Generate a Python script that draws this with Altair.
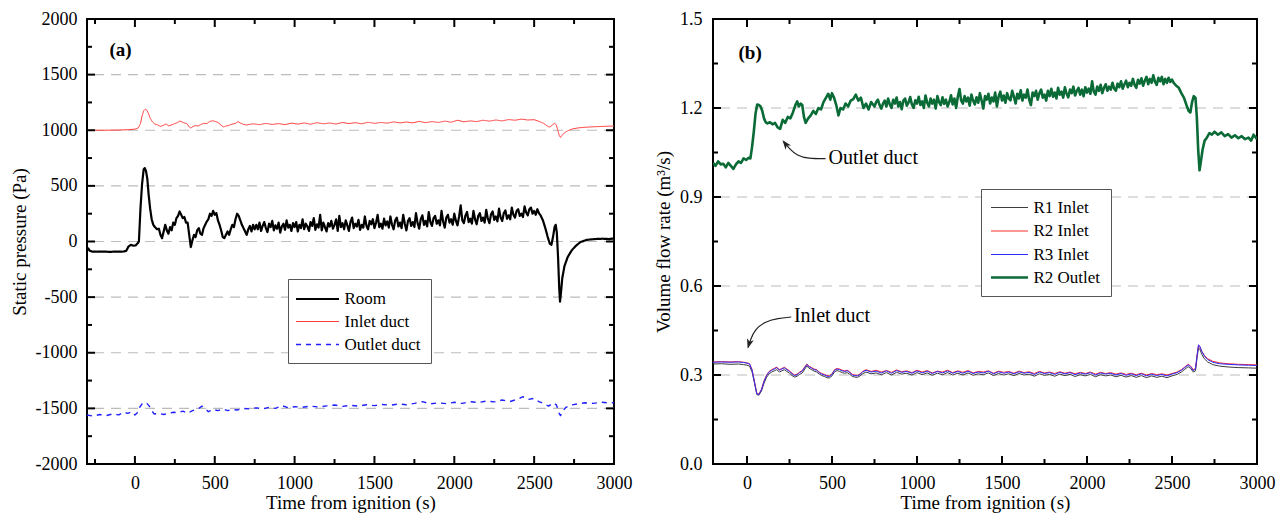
import altair as alt
import pandas as pd

FONT = "Liberation Serif"

# ---------------- panel (a): static pressure ----------------
ROOM = [(-300,-70),(-292,-62),(-285,-80),(-270,-90),(-240,-92),(-200,-90),(-160,-93),(-120,-91),
        (-80,-92),(-55,-85),(-40,-45),(-25,-30),(-10,-38),(5,-35),(15,-20),(25,0),(35,300),(45,520),
        (55,650),(62,660),(70,630),(78,560),(86,420),(95,300),(105,200),(115,150),(125,130),(138,110),
        (150,115),(160,60),(170,30),(180,90),(190,150),(200,100),(210,70),(220,130),(230,100),(240,170),
        (250,150),(260,210),(270,230),(280,270),(290,240),(300,210),(310,220),(320,170),(330,170),
        (340,60),(350,-50),(360,10),(370,60),(380,40),(390,100),(400,120),(410,70),(420,60),(430,120),
        (440,150),(450,180),(460,200),(470,250),(480,230),(490,275),(500,240),(510,255),(520,190),
        (530,150),(540,100),(550,40),(560,30),(570,60),(580,90),(590,60),(600,110),(610,150),(620,130),
        (630,200),(640,250),(650,230),(660,190),(670,150),(680,120),(690,90),(700,60),(710,110),
        (720,140),(730,90),(740,150),(750,110),
        (760,150),(770,110),(780,170),(790,95),(800,140),(810,175),(820,120),(830,85),(840,160),(850,130),
        (860,185),(870,100),(880,145),(890,115),(900,170),(910,80),(920,135),(930,160),(940,105),(950,190),
        (960,125),(970,150),(980,95),(990,165),(1000,130),(1010,175),(1020,90),(1030,150),(1040,120),
        (1050,200),(1060,110),(1070,160),(1080,135),(1090,95),(1100,175),(1110,140),(1120,210),(1130,105),
        (1140,155),(1150,125),(1160,240),(1170,100),(1180,170),(1190,130),(1200,90),(1210,165),(1220,135),
        (1230,185),(1240,115),(1250,150),(1260,200),(1270,95),(1280,230),(1290,130),(1300,165),(1310,110),
        (1320,190),(1330,145),(1340,95),(1350,175),(1360,215),(1370,120),(1380,160),(1390,135),(1400,195),
        (1410,105),(1420,150),(1430,125),(1440,225),(1450,140),(1460,110),(1470,185),(1480,155),(1490,200),
        (1500,120),(1510,170),(1520,240),(1530,130),(1540,160),(1550,115),(1560,205),(1570,145),(1580,180),
        (1590,125),(1600,225),(1610,150),(1620,110),(1630,190),(1640,215),(1650,135),(1660,170),(1670,120),
        (1680,240),(1690,160),(1700,100),(1710,185),(1720,210),(1730,140),(1740,175),(1750,130),(1760,255),
        (1770,165),(1780,115),(1790,200),(1800,235),(1810,150),(1820,185),(1830,135),(1840,265),(1850,175),
        (1860,140),(1870,210),(1880,230),(1890,160),(1900,190),(1910,145),(1920,275),(1930,180),(1940,125),
        (1950,215),(1960,240),(1970,170),(1980,200),(1990,150),(2000,250),(2010,185),(2020,145),(2030,225),
        (2040,325),(2050,190),(2060,165),(2070,235),(2080,265),(2090,175),(2100,205),(2110,160),(2120,275),
        (2130,200),(2140,155),(2150,230),(2160,255),(2170,185),(2180,215),(2190,170),(2200,285),(2210,205),
        (2220,165),(2230,245),(2240,270),(2250,195),(2260,225),(2270,180),(2280,295),(2290,215),(2300,185),
        (2310,255),(2320,280),(2330,205),(2340,235),(2350,200),(2360,305),(2370,240),(2380,215),(2390,275),
        (2400,290),(2410,230),(2420,250),(2430,220),(2440,315),(2450,260),(2460,235),(2470,290),(2480,305),
        (2490,250),(2500,275),(2510,240),(2520,290),(2530,255),(2540,235),
        (2555,190),(2570,120),(2585,40),(2598,-20),(2608,-30),(2618,40),(2628,130),(2635,150),(2642,80),
        (2650,-150),(2657,-420),(2662,-540),(2668,-460),(2676,-330),(2690,-220),(2710,-140),(2735,-80),
        (2760,-40),(2790,-5),(2830,15),(2880,22),(2930,25),(2970,22),(3000,28)]

INLET_DUCT = [(-300,1000),(-200,1000),(-100,1002),(-40,1005),(0,1010),(20,1020),(35,1060),(45,1130),
        (55,1175),(65,1190),(75,1180),(85,1150),(95,1110),(110,1075),(125,1055),(140,1050),(160,1035),
        (180,1045),(195,1058),(210,1040),(230,1048),(250,1060),(265,1068),(280,1082),(295,1075),(310,1065),
        (325,1060),(340,1030),(350,1020),(365,1035),(380,1042),(395,1038),(410,1050),(430,1062),(450,1060),
        (470,1080),(490,1085),(505,1078),(520,1070),(540,1045),(555,1030),(570,1038),(590,1045),(610,1055),
        (630,1062),(645,1078),(660,1065),(680,1052),(700,1048),
        (740,1058),(780,1050),(820,1062),(860,1052),(900,1060),(940,1050),(980,1064),(1020,1055),(1060,1066),
        (1100,1054),(1140,1068),(1180,1058),(1220,1065),(1260,1056),(1300,1070),(1340,1060),(1380,1068),
        (1420,1058),(1460,1072),(1500,1062),(1540,1070),(1580,1064),(1620,1075),(1660,1066),(1700,1074),
        (1740,1066),(1780,1080),(1820,1068),(1860,1078),(1900,1070),(1940,1082),(1980,1072),(2020,1090),
        (2060,1076),(2100,1084),(2140,1078),(2180,1090),(2220,1082),(2260,1092),(2300,1084),(2340,1096),
        (2380,1090),(2420,1100),(2460,1092),(2500,1095),
        (2530,1080),(2560,1062),(2585,1035),(2600,1028),(2615,1050),(2628,1062),(2638,1050),(2648,1000),
        (2658,950),(2665,935),(2675,955),(2690,978),(2710,995),(2740,1012),(2780,1022),(2830,1028),
        (2900,1033),(2960,1036),(3000,1038)]

OUTLET_DUCT = [(-300,-1560),(-260,-1570),(-220,-1555),(-180,-1565),(-140,-1550),(-100,-1558),(-70,-1535),
        (-45,-1545),(-20,-1530),(0,-1560),(15,-1540),(30,-1490),(45,-1460),(60,-1445),(75,-1455),(90,-1480),
        (105,-1520),(120,-1550),(150,-1545),(180,-1555),(210,-1545),(240,-1535),(270,-1540),(300,-1525),
        (330,-1545),(360,-1520),(390,-1510),(420,-1480),(440,-1500),(460,-1530),(490,-1510),(520,-1520),
        (550,-1505),(580,-1520),(610,-1510),(640,-1515),(680,-1500),(720,-1505),(760,-1495),(800,-1505),
        (840,-1490),(880,-1500),(920,-1475),(960,-1495),(1000,-1485),(1050,-1490),(1100,-1480),(1150,-1488),
        (1200,-1478),(1250,-1470),(1300,-1482),(1350,-1472),(1400,-1480),(1450,-1468),(1500,-1475),
        (1550,-1465),(1600,-1472),(1650,-1460),(1700,-1468),(1750,-1455),(1800,-1440),(1850,-1460),
        (1900,-1450),(1950,-1458),(2000,-1445),(2050,-1455),(2100,-1440),(2150,-1448),(2200,-1435),
        (2250,-1442),(2300,-1425),(2350,-1438),(2400,-1415),(2430,-1395),(2460,-1420),(2500,-1410),
        (2530,-1440),(2560,-1455),(2590,-1480),(2620,-1450),(2640,-1470),(2655,-1540),(2665,-1565),
        (2680,-1520),(2700,-1490),(2730,-1470),(2770,-1460),(2820,-1450),(2870,-1455),(2920,-1445),
        (2970,-1452),(3000,-1448)]

A_SERIES = ["Room", "Inlet duct", "Outlet duct"]
A_COLORS = ["#000000", "#ff3a3a", "#1f1fff"]
A_WIDTHS = [2.2, 1.0, 1.4]
A_DASHES = [[1, 0], [1, 0], [5, 5]]
A_X_MAJOR = [0, 500, 1000, 1500, 2000, 2500, 3000]
A_X_MINOR = [-250, 250, 750, 1250, 1750, 2250, 2750]
A_Y_MAJOR = [-2000, -1500, -1000, -500, 0, 500, 1000, 1500, 2000]
A_Y_MINOR = [-1750, -1250, -750, -250, 250, 750, 1250, 1750]
A_GRID = [-1500, -1000, -500, 0, 500, 1000, 1500]
A_TAG = [(-159, 1721, "(a)")]

# ---------------- panel (b): volume flow rate ----------------
R2_OUTLET = [(-200,1.015),(-185,1.005),(-170,1.02),(-155,1.01),(-140,1.012),(-125,1.0),(-110,1.015),
        (-95,1.005),(-80,0.995),(-65,1.01),(-50,1.02),(-35,1.015),(-20,1.03),(-5,1.025),(10,1.032),(20,1.03),
        (30,1.07),(40,1.12),(50,1.18),(60,1.212),(70,1.21),(80,1.205),(90,1.19),(100,1.165),(110,1.152),
        (120,1.148),(135,1.152),(150,1.145),(165,1.15),(180,1.135),(195,1.13),(210,1.16),(225,1.15),
        (240,1.17),(255,1.165),(270,1.185),(285,1.21),(295,1.222),(305,1.205),(315,1.215),(325,1.21),
        (335,1.17),(345,1.15),(360,1.165),(375,1.175),(390,1.19),(405,1.18),(420,1.2),(435,1.195),
        (450,1.22),(465,1.235),(478,1.248),(490,1.228),(500,1.25),(512,1.235),(525,1.21),(538,1.175),
        (550,1.2),(565,1.195),(580,1.215),(595,1.205),(610,1.225),(625,1.23),(640,1.245),(655,1.225),
        (670,1.235),(685,1.2),(700,1.215),(715,1.195),(730,1.22),
        (750,1.205),(760,1.22),(770,1.228),(780,1.21),(790,1.198),(800,1.215),(810,1.225),(820,1.205),
        (830,1.232),(840,1.212),(850,1.2),(860,1.228),(870,1.215),(880,1.235),(890,1.205),(900,1.22),
        (910,1.196),(920,1.225),(930,1.232),(940,1.208),(950,1.218),(960,1.237),(970,1.212),(980,1.2),
        (990,1.226),(1000,1.215),(1010,1.238),(1020,1.21),(1030,1.222),(1040,1.2),(1050,1.242),(1060,1.218),
        (1070,1.205),(1080,1.232),(1090,1.215),(1100,1.228),(1110,1.198),(1120,1.24),(1130,1.22),
        (1140,1.21),(1150,1.236),(1160,1.214),(1170,1.228),(1180,1.205),(1190,1.22),(1200,1.243),
        (1210,1.212),(1220,1.232),(1230,1.2),(1240,1.238),(1250,1.264),(1260,1.225),(1270,1.215),
        (1280,1.24),(1290,1.222),(1300,1.235),(1310,1.208),(1320,1.245),(1330,1.225),(1340,1.212),
        (1350,1.236),(1360,1.218),(1370,1.25),(1380,1.225),(1390,1.198),(1400,1.24),(1410,1.228),
        (1420,1.248),(1430,1.215),(1440,1.235),(1450,1.222),(1460,1.252),(1470,1.205),(1480,1.238),
        (1490,1.255),(1500,1.225),(1510,1.242),(1520,1.218),(1530,1.25),(1540,1.232),(1550,1.226),
        (1560,1.258),(1570,1.238),(1580,1.215),(1590,1.248),(1600,1.232),(1610,1.26),(1620,1.225),
        (1630,1.245),(1640,1.235),(1650,1.262),(1660,1.228),(1670,1.21),(1680,1.252),(1690,1.24),
        (1700,1.258),(1710,1.228),(1720,1.25),(1730,1.262),(1740,1.235),(1750,1.245),(1760,1.225),
        (1770,1.258),(1780,1.24),(1790,1.265),(1800,1.238),(1810,1.252),(1820,1.232),(1830,1.268),
        (1840,1.245),(1850,1.255),(1860,1.235),(1870,1.27),(1880,1.248),(1890,1.236),(1900,1.262),
        (1910,1.25),(1920,1.272),(1930,1.242),(1940,1.258),(1950,1.268),(1960,1.245),(1970,1.262),
        (1980,1.24),(1990,1.27),(2000,1.252),(2010,1.265),(2020,1.248),(2030,1.29),(2040,1.255),
        (2050,1.245),(2060,1.272),(2070,1.258),(2080,1.278),(2090,1.25),(2100,1.268),(2110,1.28),
        (2120,1.258),(2130,1.272),(2140,1.262),(2150,1.285),(2160,1.265),(2170,1.258),(2180,1.282),
        (2190,1.27),(2200,1.29),(2210,1.265),(2220,1.28),(2230,1.292),(2240,1.27),(2250,1.285),
        (2260,1.275),(2270,1.298),(2280,1.278),(2290,1.268),(2300,1.295),(2310,1.282),(2320,1.3),
        (2330,1.275),(2340,1.292),(2350,1.305),(2360,1.28),(2370,1.298),(2380,1.285),(2390,1.31),
        (2400,1.288),(2410,1.278),(2420,1.302),(2430,1.29),(2440,1.305),(2450,1.28),(2460,1.298),
        (2470,1.285),(2480,1.302),(2490,1.288),(2500,1.296),(2510,1.285),
        (2525,1.275),(2540,1.268),(2555,1.25),(2570,1.235),(2585,1.21),(2598,1.19),(2608,1.185),
        (2618,1.22),(2628,1.24),(2638,1.235),(2646,1.17),(2654,1.06),(2662,0.99),(2670,1.02),(2680,1.06),
        (2692,1.09),(2705,1.1),(2720,1.115),(2735,1.11),(2750,1.12),(2770,1.11),(2790,1.118),(2810,1.105),
        (2830,1.112),(2850,1.1),(2870,1.108),(2890,1.098),(2910,1.105),(2930,1.095),(2950,1.1),
        (2965,1.09),(2980,1.11),(3000,1.095)]

T_INLET = [-200,-150,-100,-50,-20,0,15,30,45,58,
           70,85,100,115,130,145,160,175,190,205,
           220,235,250,265,280,295,310,325,340,352,
           365,380,395,410,425,440,455,470,485,500,
           515,530,545,560,575,590,605,620,635,650,
           665,680,700,730,760,790,820,850,880,910,
           940,970,1000,1030,1060,1090,1120,1150,1180,1210,
           1240,1270,1300,1330,1360,1390,1420,1450,1480,1510,
           1540,1570,1600,1630,1660,1690,1720,1750,1780,1810,
           1840,1870,1900,1930,1960,1990,2020,2050,2080,2110,
           2140,2170,2200,2230,2260,2290,2320,2350,2380,2410,
           2440,2470,2500,2530,2555,2575,2595,2610,2625,2638,
           2648,2656,2664,2675,2690,2710,2740,2780,2830,2890,
           2950,3000]

R1_INLET = [0.337,0.338,0.336,0.337,0.335,0.333,0.33,0.31,0.27,0.234,
            0.232,0.246,0.272,0.292,0.304,0.31,0.314,0.318,0.31,0.314,
            0.318,0.312,0.306,0.298,0.293,0.296,0.302,0.307,0.32,0.33,
            0.323,0.318,0.313,0.31,0.303,0.298,0.295,0.291,0.29,0.297,
            0.311,0.315,0.312,0.308,0.306,0.308,0.302,0.295,0.293,0.292,
            0.297,0.304,0.31,0.304,0.307,0.301,0.308,0.3,0.309,0.303,
            0.306,0.3,0.308,0.301,0.307,0.299,0.306,0.301,0.308,0.3,
            0.306,0.3,0.307,0.299,0.304,0.301,0.307,0.298,0.305,0.3,
            0.304,0.298,0.305,0.3,0.303,0.296,0.304,0.299,0.302,0.296,
            0.303,0.298,0.302,0.295,0.301,0.297,0.302,0.294,0.301,0.297,
            0.3,0.294,0.299,0.293,0.298,0.292,0.298,0.291,0.297,0.292,
            0.296,0.291,0.297,0.302,0.31,0.319,0.328,0.322,0.31,0.314,
            0.36,0.392,0.386,0.37,0.355,0.344,0.335,0.33,0.327,0.325,
            0.324,0.323]

R2_INLET = [0.344,0.345,0.344,0.345,0.343,0.341,0.338,0.318,0.275,0.238,
            0.236,0.252,0.28,0.3,0.312,0.318,0.322,0.327,0.318,0.322,
            0.326,0.32,0.314,0.306,0.3,0.303,0.31,0.315,0.328,0.337,
            0.33,0.325,0.32,0.318,0.31,0.305,0.302,0.298,0.297,0.304,
            0.318,0.322,0.32,0.316,0.314,0.316,0.31,0.302,0.3,0.299,
            0.304,0.312,0.318,0.312,0.316,0.31,0.315,0.309,0.317,0.311,
            0.314,0.308,0.316,0.31,0.315,0.307,0.313,0.31,0.316,0.308,
            0.314,0.309,0.315,0.307,0.312,0.31,0.314,0.306,0.313,0.309,
            0.312,0.306,0.313,0.308,0.311,0.305,0.312,0.307,0.31,0.305,
            0.311,0.306,0.31,0.304,0.309,0.305,0.31,0.303,0.309,0.305,
            0.308,0.303,0.307,0.302,0.306,0.301,0.306,0.3,0.305,0.301,
            0.304,0.3,0.305,0.31,0.318,0.327,0.336,0.33,0.318,0.322,
            0.37,0.4,0.395,0.38,0.366,0.355,0.346,0.341,0.338,0.336,
            0.335,0.334]

R3_INLET = [0.343,0.344,0.343,0.344,0.342,0.340,0.337,0.316,0.273,0.236,
            0.234,0.25,0.278,0.298,0.31,0.316,0.32,0.325,0.316,0.32,
            0.324,0.318,0.312,0.304,0.298,0.301,0.308,0.313,0.326,0.335,
            0.328,0.323,0.318,0.316,0.308,0.303,0.3,0.296,0.295,0.302,
            0.316,0.32,0.318,0.314,0.312,0.314,0.308,0.3,0.298,0.297,
            0.302,0.31,0.316,0.31,0.313,0.307,0.314,0.306,0.315,0.309,
            0.312,0.306,0.314,0.307,0.313,0.305,0.312,0.307,0.314,0.306,
            0.312,0.306,0.313,0.305,0.31,0.307,0.313,0.304,0.311,0.306,
            0.31,0.304,0.311,0.306,0.309,0.302,0.31,0.305,0.308,0.302,
            0.309,0.304,0.308,0.301,0.307,0.303,0.308,0.3,0.307,0.303,
            0.306,0.3,0.305,0.299,0.304,0.298,0.304,0.297,0.303,0.298,
            0.302,0.297,0.303,0.308,0.316,0.325,0.334,0.328,0.315,0.32,
            0.368,0.402,0.396,0.38,0.364,0.352,0.343,0.338,0.336,0.334,
            0.333,0.332]

B_SERIES = ["R1 Inlet", "R2 Inlet", "R3 Inlet", "R2 Outlet"]
B_COLORS = ["#3c3c3c", "#ff2a2a", "#2b2bff", "#0a6b36"]
B_WIDTHS = [1.0, 1.0, 1.0, 2.6]
B_X_MAJOR = [0, 500, 1000, 1500, 2000, 2500, 3000]
B_X_MINOR = [250, 750, 1250, 1750, 2250, 2750]
B_Y_MAJOR = [0.0, 0.3, 0.6, 0.9, 1.2, 1.5]
B_Y_MINOR = [0.15, 0.45, 0.75, 1.05, 1.35]
B_GRID = [0.3, 0.6, 0.9, 1.2]
B_TAG = [(-50, 1.385, "(b)")]
B_NOTES = [(480, 1.031, "Outlet duct"), (276, 0.499, "Inlet duct")]
ARROW_OUT = [(215, 1.0876), (249, 1.063), (294, 1.0393), (361, 1.0292), (462, 1.0292)]
ARROW_IN = [(260, 0.4955), (182, 0.491), (103, 0.4795), (47, 0.4534), (20, 0.4193), (7, 0.3932)]
ARROW_HEADS = [(226, 1.079, 322), (12, 0.405, 197)]

W_A, W_B, H = 527, 544, 445


def series_frame(named):
    rows = []
    for name, pts in named:
        for t, v in pts:
            rows.append({"t": t, "val": v, "series": name})
    return pd.DataFrame(rows)


def tick_layers(X, Y, xmaj, xmin, ymaj, ymin, W):
    layers = []
    for vals, L in ((ymaj, 8), (ymin, 5)):
        base = alt.Chart(pd.DataFrame({"val": vals})).mark_rule(color="black", strokeWidth=2)
        layers.append(base.encode(y=Y, x=alt.value(0), x2=alt.value(L)))
        layers.append(base.encode(y=Y, x=alt.value(W - L), x2=alt.value(W)))
    for vals, L in ((xmaj, 8), (xmin, 5)):
        base = alt.Chart(pd.DataFrame({"t": vals})).mark_rule(color="black", strokeWidth=2)
        layers.append(base.encode(x=X, y=alt.value(H - L), y2=alt.value(H)))
        layers.append(base.encode(x=X, y=alt.value(0), y2=alt.value(L)))
    return layers


def grid_layer(vals, Y):
    return alt.Chart(pd.DataFrame({"val": vals})).mark_rule(
        color="#bcbcbc", strokeWidth=1.2, strokeDash=[10, 7]
    ).encode(y=Y)


def text_layer(items, X, Y, size, bold=False):
    df = pd.DataFrame(items, columns=["t", "val", "txt"])
    return alt.Chart(df).mark_text(
        font=FONT, fontSize=size, fontWeight="bold" if bold else "normal",
        align="left", baseline="middle", color="black"
    ).encode(x=X, y=Y, text="txt:N")


common_axis = dict(grid=False, ticks=False, domain=False, labelFlush=False, labelOverlap=False)

# ---------------- panel (a) ----------------
XA = alt.X("t:Q", scale=alt.Scale(domain=[-300, 3000], nice=False, zero=False),
           axis=alt.Axis(title="Time from ignition (s)", values=A_X_MAJOR, format="d",
                         labelPadding=10, titlePadding=1, **common_axis))
YA = alt.Y("val:Q", scale=alt.Scale(domain=[-2000, 2000], nice=False, zero=False),
           axis=alt.Axis(title="Static pressure (Pa)", values=A_Y_MAJOR, labelExpr="'' + datum.value",
                         labelPadding=10, titlePadding=6, **common_axis))
dfA = series_frame([("Room", ROOM), ("Inlet duct", INLET_DUCT), ("Outlet duct", OUTLET_DUCT)])
legA = dict(orient="none", legendX=201, legendY=260, title=None, fillColor="white",
            strokeColor="#555555", padding=10, symbolType="M-2.5,0H2.5", symbolSize=296,
            symbolOffset=9.5, labelOffset=17, rowPadding=5, labelFont=FONT, labelFontSize=17,
            labelColor="black")
linesA = alt.Chart(dfA).mark_line(clip=True, strokeJoin="round").encode(
    x=XA, y=YA,
    color=alt.Color("series:N", sort=A_SERIES,
                    scale=alt.Scale(type="ordinal", domain=A_SERIES, range=A_COLORS),
                    legend=alt.Legend(**legA)),
    strokeWidth=alt.StrokeWidth("series:N", sort=A_SERIES,
                                scale=alt.Scale(type="ordinal", domain=A_SERIES, range=A_WIDTHS),
                                legend=alt.Legend(**legA)),
    strokeDash=alt.StrokeDash("series:N", sort=A_SERIES,
                              scale=alt.Scale(type="ordinal", domain=A_SERIES, range=A_DASHES),
                              legend=alt.Legend(**legA)),
)
panelA = alt.layer(
    grid_layer(A_GRID, YA), linesA,
    *tick_layers(XA, YA, A_X_MAJOR, A_X_MINOR, A_Y_MAJOR, A_Y_MINOR, W_A),
    text_layer(A_TAG, XA, YA, 19, bold=True),
).properties(width=W_A, height=H)

# ---------------- panel (b) ----------------
XB = alt.X("t:Q", scale=alt.Scale(domain=[-200, 3000], nice=False, zero=False),
           axis=alt.Axis(title="Time from ignition (s)", values=B_X_MAJOR, format="d",
                         labelPadding=10, titlePadding=1, **common_axis))
YB = alt.Y("val:Q", scale=alt.Scale(domain=[0, 1.5], nice=False, zero=False),
           axis=alt.Axis(title="Volume flow rate (m³/s)", values=B_Y_MAJOR, format=".1f",
                         labelPadding=11, titlePadding=6, **common_axis))
dfB = series_frame([
    ("R1 Inlet", list(zip(T_INLET, R1_INLET))),
    ("R2 Inlet", list(zip(T_INLET, R2_INLET))),
    ("R3 Inlet", list(zip(T_INLET, R3_INLET))),
    ("R2 Outlet", R2_OUTLET),
])
legB = dict(orient="none", legendX=268, legendY=170, title=None, fillColor="white",
            strokeColor="#555555", padding=10, symbolType="M-2.5,0H2.5", symbolSize=219,
            symbolOffset=9.5, labelOffset=15, rowPadding=5.5, labelFont=FONT, labelFontSize=17,
            labelColor="black")
linesB = alt.Chart(dfB).mark_line(clip=True, strokeJoin="round").encode(
    x=XB, y=YB,
    color=alt.Color("series:N", sort=B_SERIES,
                    scale=alt.Scale(type="ordinal", domain=B_SERIES, range=B_COLORS),
                    legend=alt.Legend(**legB)),
    strokeWidth=alt.StrokeWidth("series:N", sort=B_SERIES,
                                scale=alt.Scale(type="ordinal", domain=B_SERIES, range=B_WIDTHS),
                                legend=alt.Legend(**legB)),
)

arrow_rows = [{"t": t, "val": v, "i": i, "name": "out"} for i, (t, v) in enumerate(ARROW_OUT)] + \
             [{"t": t, "val": v, "i": i, "name": "in"} for i, (t, v) in enumerate(ARROW_IN)]
arrows = alt.Chart(pd.DataFrame(arrow_rows)).mark_line(
    interpolate="basis", color="#222222", strokeWidth=1.2
).encode(x=XB, y=YB, order="i:Q", detail="name:N")
heads = alt.Chart(pd.DataFrame(ARROW_HEADS, columns=["t", "val", "a"])).mark_point(
    shape="M0,-1L0.75,1L0,0.45L-0.75,1Z", filled=True, color="#222222", size=90, opacity=1
).encode(x=XB, y=YB, angle=alt.Angle("a:Q", scale=None))

panelB = alt.layer(
    grid_layer(B_GRID, YB), linesB,
    *tick_layers(XB, YB, B_X_MAJOR, B_X_MINOR, B_Y_MAJOR, B_Y_MINOR, W_B),
    arrows, heads,
    text_layer(B_TAG, XB, YB, 19, bold=True),
    text_layer(B_NOTES, XB, YB, 20),
).properties(width=W_B, height=H)

chart = alt.hconcat(panelA, panelB, spacing=20).resolve_scale(
    color="independent", strokeWidth="independent", strokeDash="independent"
).properties(
    padding={"left": 9, "top": 9, "right": 5, "bottom": 2}
).configure_view(
    stroke="black", strokeWidth=2
).configure_axis(
    labelFont=FONT, titleFont=FONT, labelFontSize=18, titleFontSize=19,
    labelColor="black", titleColor="black", titleFontWeight="normal"
)

chart.save("out.html", embed_options={"renderer": "svg", "actions": False})
